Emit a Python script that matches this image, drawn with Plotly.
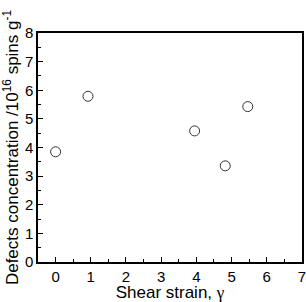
import plotly.graph_objects as go

shear_strain = [0.0, 0.92, 3.95, 4.82, 5.46]
defects = [3.85, 5.79, 4.58, 3.36, 5.43]
x_ticks = [0, 1, 2, 3, 4, 5, 6, 7]
y_ticks = [0, 1, 2, 3, 4, 5, 6, 7, 8]

fig = go.Figure()
fig.add_trace(go.Scatter(
    x=shear_strain, y=defects, mode="markers",
    marker=dict(symbol="circle-open", size=10, color="#333333", line=dict(width=1)),
    showlegend=False, cliponaxis=False,
))

axis_common = dict(
    showline=True, linecolor="black", linewidth=1.5, mirror=True,
    ticks="inside", ticklen=5, tickwidth=1.2, tickcolor="black",
    showgrid=False, zeroline=False, automargin=False,
    ticklabeloverflow="allow",
    tickfont=dict(family="Liberation Sans, Arial", size=15, color="black"),
    minor=dict(ticks="inside", ticklen=3, tickwidth=1, tickcolor="black", dtick=0.5, tick0=0, showgrid=False),
)

fig.update_xaxes(
    range=[-0.5, 7.001], tickmode="array", tickvals=x_ticks, ticktext=[str(v) for v in x_ticks],
    title=dict(text="Shear strain, <span style='font-family:Liberation Serif, Times New Roman'>γ</span>",
               font=dict(family="Liberation Sans, Arial", size=17, color="black")),
    **axis_common,
)
fig.update_yaxes(
    range=[0, 8.001], tickmode="array", tickvals=y_ticks, ticktext=[str(v) for v in y_ticks],
    title=dict(text="Defects concentration /10<sup>16</sup> spins g<sup>-1</sup>",
               font=dict(family="Liberation Sans, Arial", size=17, color="black")),
    **axis_common,
)

fig.update_layout(
    width=306, height=302,
    margin=dict(l=38, r=4, t=33, b=40),
    paper_bgcolor="white", plot_bgcolor="white",
)

fig.write_html("out.html", config={"displayModeBar": False},
               post_script="document.body.style.margin='0';document.body.style.overflow='hidden';")
